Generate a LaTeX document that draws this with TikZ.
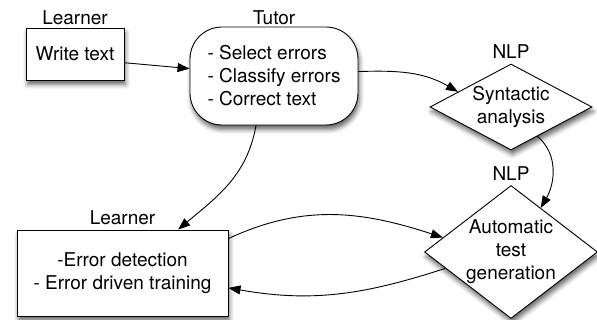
\documentclass[tikz,border=0pt]{standalone}
\usepackage{fontspec}
\setmainfont{TeX Gyre Heros}
\usetikzlibrary{positioning,shapes.geometric,shadows.blur,arrows.meta}
\begin{document}
\begin{tikzpicture}[x=1pt,y=-1pt,line width=0.9pt,
				font=\fontsize{19}{23}\selectfont,
				soft/.style = {blur shadow={shadow xshift=1.5pt, shadow yshift=-4.5pt, shadow blur radius=4.5pt, shadow opacity=60}},
				box node/.style = {rectangle,draw,fill=white,soft,inner sep=0pt,align=center},
				round node/.style = {rectangle,draw,fill=white,soft,rounded corners=32pt,inner sep=0pt,align=left},
				choice node/.style = {diamond,draw,fill=white,soft,inner sep=0pt,align=center},
				role node/.style = {inner sep=3pt},
				flow/.style = {-{Triangle[length=12pt,width=9pt]}}]
				\useasboundingbox (0,0) rectangle (597,320);
				
				\node[box node,minimum width=98pt,minimum height=52pt] at (75,54) (write) {Write text};
				\node[round node,minimum width=168pt,minimum height=98pt] at (274,76) (tutor) {- Select errors\\- Classify errors\\- Correct text};
				\node[choice node,aspect=1.9,minimum width=162pt,minimum height=86pt] at (511,107) (syn) {Syntactic\\analysis};
				\node[choice node,aspect=1.3,minimum width=168pt,minimum height=130pt] at (511,252) (gen) {Automatic\\test\\generation};
				\node[box node,minimum width=211pt,minimum height=86pt] at (122.5,273) (train) {-Error detection\\ - Error driven training};
				
				\node[role node] [above=-1pt of write] (learner1) {Learner};
				\node[role node] [above=-2pt of tutor] (tutorlabel) {Tutor};
				\node[role node] [above=2pt of syn] (nlp1) {NLP};
				\node[role node] [above=1pt of gen] (nlp2) {NLP};
				\node[role node] [above=1pt of train] (learner2) {Learner};
				
				\path[flow]
				(write.-10) edge (tutor.175)
				(tutor.3) edge [out=2,in=150] (syn.164)
				(syn.-48) edge [out=-40,in=60] (gen.56)
				(tutor.-110) edge [out=-100,in=40] (train.38)
				(train.18) edge [out=25,in=162] (gen.168)
				(gen.-166) edge [out=-162,in=-10] (train.-8);
				\end{tikzpicture}
\end{document}
